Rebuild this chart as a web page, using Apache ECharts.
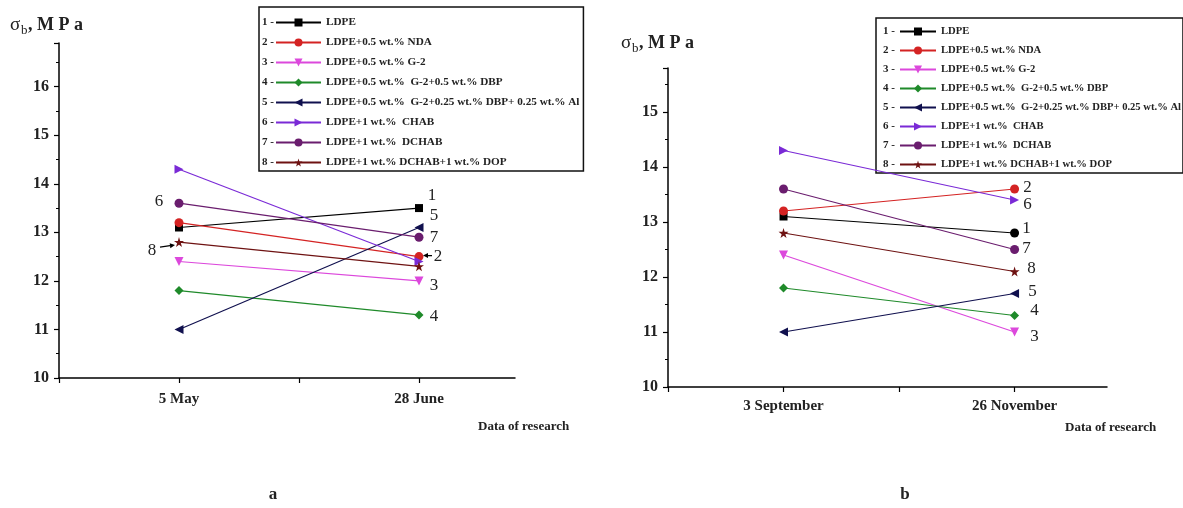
<!DOCTYPE html>
<html><head><meta charset="utf-8">
<script src="https://cdn.jsdelivr.net/npm/echarts@6/dist/echarts.min.js"></script>
<style>html,body{margin:0;padding:0;background:#fff}#c{width:1183px;height:508px}</style>
</head><body><div id="c"></div>
<script>
// ---- data ----
const datesA = ['5 May', '28 June'];
const datesB = ['3 September', '26 November'];
const seriesNumbers = ['1', '2', '3', '4', '5', '6', '7', '8'];
const seriesNames = [
  'LDPE',
  'LDPE+0.5 wt.% NDA',
  'LDPE+0.5 wt.% G-2',
  'LDPE+0.5 wt.%  G-2+0.5 wt.% DBP',
  'LDPE+0.5 wt.%  G-2+0.25 wt.% DBP+ 0.25 wt.% Al',
  'LDPE+1 wt.%  CHAB',
  'LDPE+1 wt.%  DCHAB',
  'LDPE+1 wt.% DCHAB+1 wt.% DOP'
];
const valuesA = [
  [13.1, 13.5],
  [13.2, 12.5],
  [12.4, 12.0],
  [11.8, 11.3],
  [11.0, 13.1],
  [14.3, 12.4],
  [13.6, 12.9],
  [12.8, 12.3]
];
const valuesB = [
  [13.1, 12.8],
  [13.2, 13.6],
  [12.4, 11.0],
  [11.8, 11.3],
  [11.0, 11.7],
  [14.3, 13.4],
  [13.6, 12.5],
  [12.8, 12.1]
];
const yTickLabels = [10, 11, 12, 13, 14, 15, 16];

// ---- styles ----
const FONT = 'Liberation Serif';
const colors = ['#000000', '#d42323', '#dc48dc', '#1f8a2a', '#10104e', '#7a2ad6', '#6a1d6e', '#6e1212'];
const STAR = 'path://M50,0 L61,35 L98,35 L68,57 L79,91 L50,70 L21,91 L32,57 L2,35 L39,35 Z';
const symbols = ['rect', 'circle', 'triangle', 'diamond', 'triangle', 'triangle', 'circle', STAR];
const symbolRot = [0, 0, 180, 0, 90, -90, 0, 0];
// label placement: [point index, dx, dy] in pixels
const labA = [[1, 13, -13], [1, 19, 0], [1, 15, 5], [1, 15, 2], [1, 15, -12], [0, -20, 32], [1, 15, 0], [0, -27, 8]];
const labB = [[1, 12, -4], [1, 13, -1], [1, 20, 5], [1, 20, -5], [1, 18, -2], [1, 13, 5], [1, 12, -1], [1, 17, -3]];

function makeSeries(values, gridIdx, lab, overrides) {
  return values.map((v, i) => ({
    name: seriesNames[i],
    type: 'line',
    xAxisIndex: gridIdx, yAxisIndex: gridIdx,
    symbol: symbols[i], symbolRotate: symbolRot[i],
    symbolSize: symbols[i] === 'rect' ? 8 : (symbols[i] === STAR ? 10 : 9),
    itemStyle: { color: colors[i] },
    lineStyle: { color: colors[i], width: 1.2 },
    animation: false,
    z: 2 + i,
    data: v.map((y, k) => {
      const d = { value: [k + 1, y] };
      if (overrides && overrides[i] && overrides[i][k]) Object.assign(d, overrides[i][k]);
      if (lab[i][0] === k) {
        d.label = {
          show: true, position: 'inside', formatter: seriesNumbers[i],
          offset: [lab[i][1], lab[i][2]],
          fontFamily: FONT, fontSize: 17, color: '#222', fontWeight: 'normal'
        };
      }
      return d;
    })
  }));
}

function xAxis(gridIndex, cats, margin) {
  return {
    type: 'value', gridIndex, min: 0.5, max: 2.4, interval: 0.5,
    axisLine: { show: true, lineStyle: { color: '#000', width: 1.5 } },
    axisTick: { show: true, length: 5, lineStyle: { color: '#000', width: 1.2 } },
    splitLine: { show: false },
    axisLabel: {
      fontFamily: FONT, fontSize: 15, fontWeight: 'bold', color: '#222', margin,
      showMinLabel: true, showMaxLabel: false,
      formatter: v => (Math.abs(v - Math.round(v)) < 1e-6 && v >= 1 && v <= cats.length) ? cats[Math.round(v) - 1] : ''
    }
  };
}
function yAxis(gridIndex, max) {
  return {
    type: 'value', gridIndex, min: 10, max, interval: 1,
    axisLine: { show: true, lineStyle: { color: '#000', width: 1.5 } },
    axisTick: { show: true, length: 5, lineStyle: { color: '#000', width: 1.2 } },
    minorTick: { show: true, splitNumber: 2, length: 3, lineStyle: { color: '#000', width: 1 } },
    splitLine: { show: false },
    axisLabel: {
      fontFamily: FONT, fontSize: 16, fontWeight: 'bold', color: '#222', margin: 10,
      showMaxLabel: false,
      formatter: v => yTickLabels.indexOf(v) >= 0 ? String(v) : ''
    }
  };
}
function legend(left, top, pad, gap, itemW, fs) {
  return {
    orient: 'vertical', left, top, padding: pad, itemGap: gap, itemWidth: itemW, itemHeight: 10,
    borderColor: '#111', borderWidth: 1.5, backgroundColor: '#fff',
    data: seriesNames, selectedMode: false,
    textStyle: { fontFamily: FONT, fontSize: fs, lineHeight: 10, fontWeight: 'bold', color: '#222' }
  };
}

const ROW_H = 11;
const LEG_A = { left: 259, top: 7, padTop: 10, gap: 9 };
const LEG_B = { left: 876, top: 18, padTop: 8, gap: 8 };

const chart = echarts.init(document.getElementById('c'), null, { renderer: 'canvas' });
const option = {
  backgroundColor: '#fff',
  animation: false,
  grid: [
    { left: 59, top: 43, width: 456, height: 335, outerBoundsMode: 'none' },
    { left: 668, top: 68, width: 439, height: 319, outerBoundsMode: 'none' }
  ],
  xAxis: [xAxis(0, datesA, 14), xAxis(1, datesB, 12)],
  yAxis: [yAxis(0, 16.9), yAxis(1, 15.8)],
  legend: [
    legend(LEG_A.left, LEG_A.top, [LEG_A.padTop, 4, 3, 16], LEG_A.gap, 45, 11.2),
    legend(LEG_B.left, LEG_B.top, [LEG_B.padTop, 2, 3, 23], LEG_B.gap, 36, 10.6)
  ],
  series: [
    ...makeSeries(valuesA, 0, labA),
    ...makeSeries(valuesB, 1, labB, { 0: { 1: { symbol: 'circle', symbolSize: 9 } } })
  ]
};
chart.setOption(option);

// ---- decorations: titles, legend numbers, arrows ----
function tx(text, x, y, size, weight, align) {
  return { type: 'text', x, y, z: 100, style: { text, fontFamily: FONT, fontSize: size, fontWeight: weight || 'bold', fill: '#222', align: align || 'left', verticalAlign: 'middle' } };
}
const g = [];
[[10, 25], [621, 43]].forEach(([x, y]) => {
  g.push(tx('σ', x, y, 19, 'normal'));
  g.push(tx('b', x + 11, y + 6, 13, 'normal'));
  g.push(tx(', M P a', x + 18, y, 18, 'bold'));
});
g.push(tx('Data of research', 478, 427, 13, 'bold'));
g.push(tx('Data of research', 1065, 428, 13, 'bold'));
g.push(tx('a', 273, 495, 17, 'bold', 'center'));
g.push(tx('b', 905, 495, 17, 'bold', 'center'));
seriesNumbers.forEach((n, i) => {
  g.push(tx(n + ' -', 262, LEG_A.top + LEG_A.padTop + ROW_H / 2 + i * (ROW_H + LEG_A.gap), 11, 'bold'));
  g.push(tx(n + ' -', 883, LEG_B.top + LEG_B.padTop + ROW_H / 2 + i * (ROW_H + LEG_B.gap), 11, 'bold'));
});
function arrow(x1, y1, x2, y2) {
  const ang = Math.atan2(y2 - y1, x2 - x1), L = 5, W = 2.5;
  const bx = x2 - L * Math.cos(ang), by = y2 - L * Math.sin(ang);
  g.push({ type: 'line', z: 100, shape: { x1, y1, x2: bx, y2: by }, style: { stroke: '#000', lineWidth: 1.3 } });
  g.push({ type: 'polygon', z: 100, shape: { points: [[x2, y2], [bx - W * Math.sin(ang), by + W * Math.cos(ang)], [bx + W * Math.sin(ang), by - W * Math.cos(ang)]] }, style: { fill: '#000' } });
}
const p8 = chart.convertToPixel({ gridIndex: 0 }, [1, valuesA[7][0]]);
arrow(p8[0] - 19, p8[1] + 5, p8[0] - 4, p8[1] + 3);
const p2 = chart.convertToPixel({ gridIndex: 0 }, [2, valuesA[1][1]]);
arrow(p2[0] + 13, p2[1] - 1, p2[0] + 4, p2[1] - 1);
chart.setOption({ graphic: g });
</script>
</body></html>
